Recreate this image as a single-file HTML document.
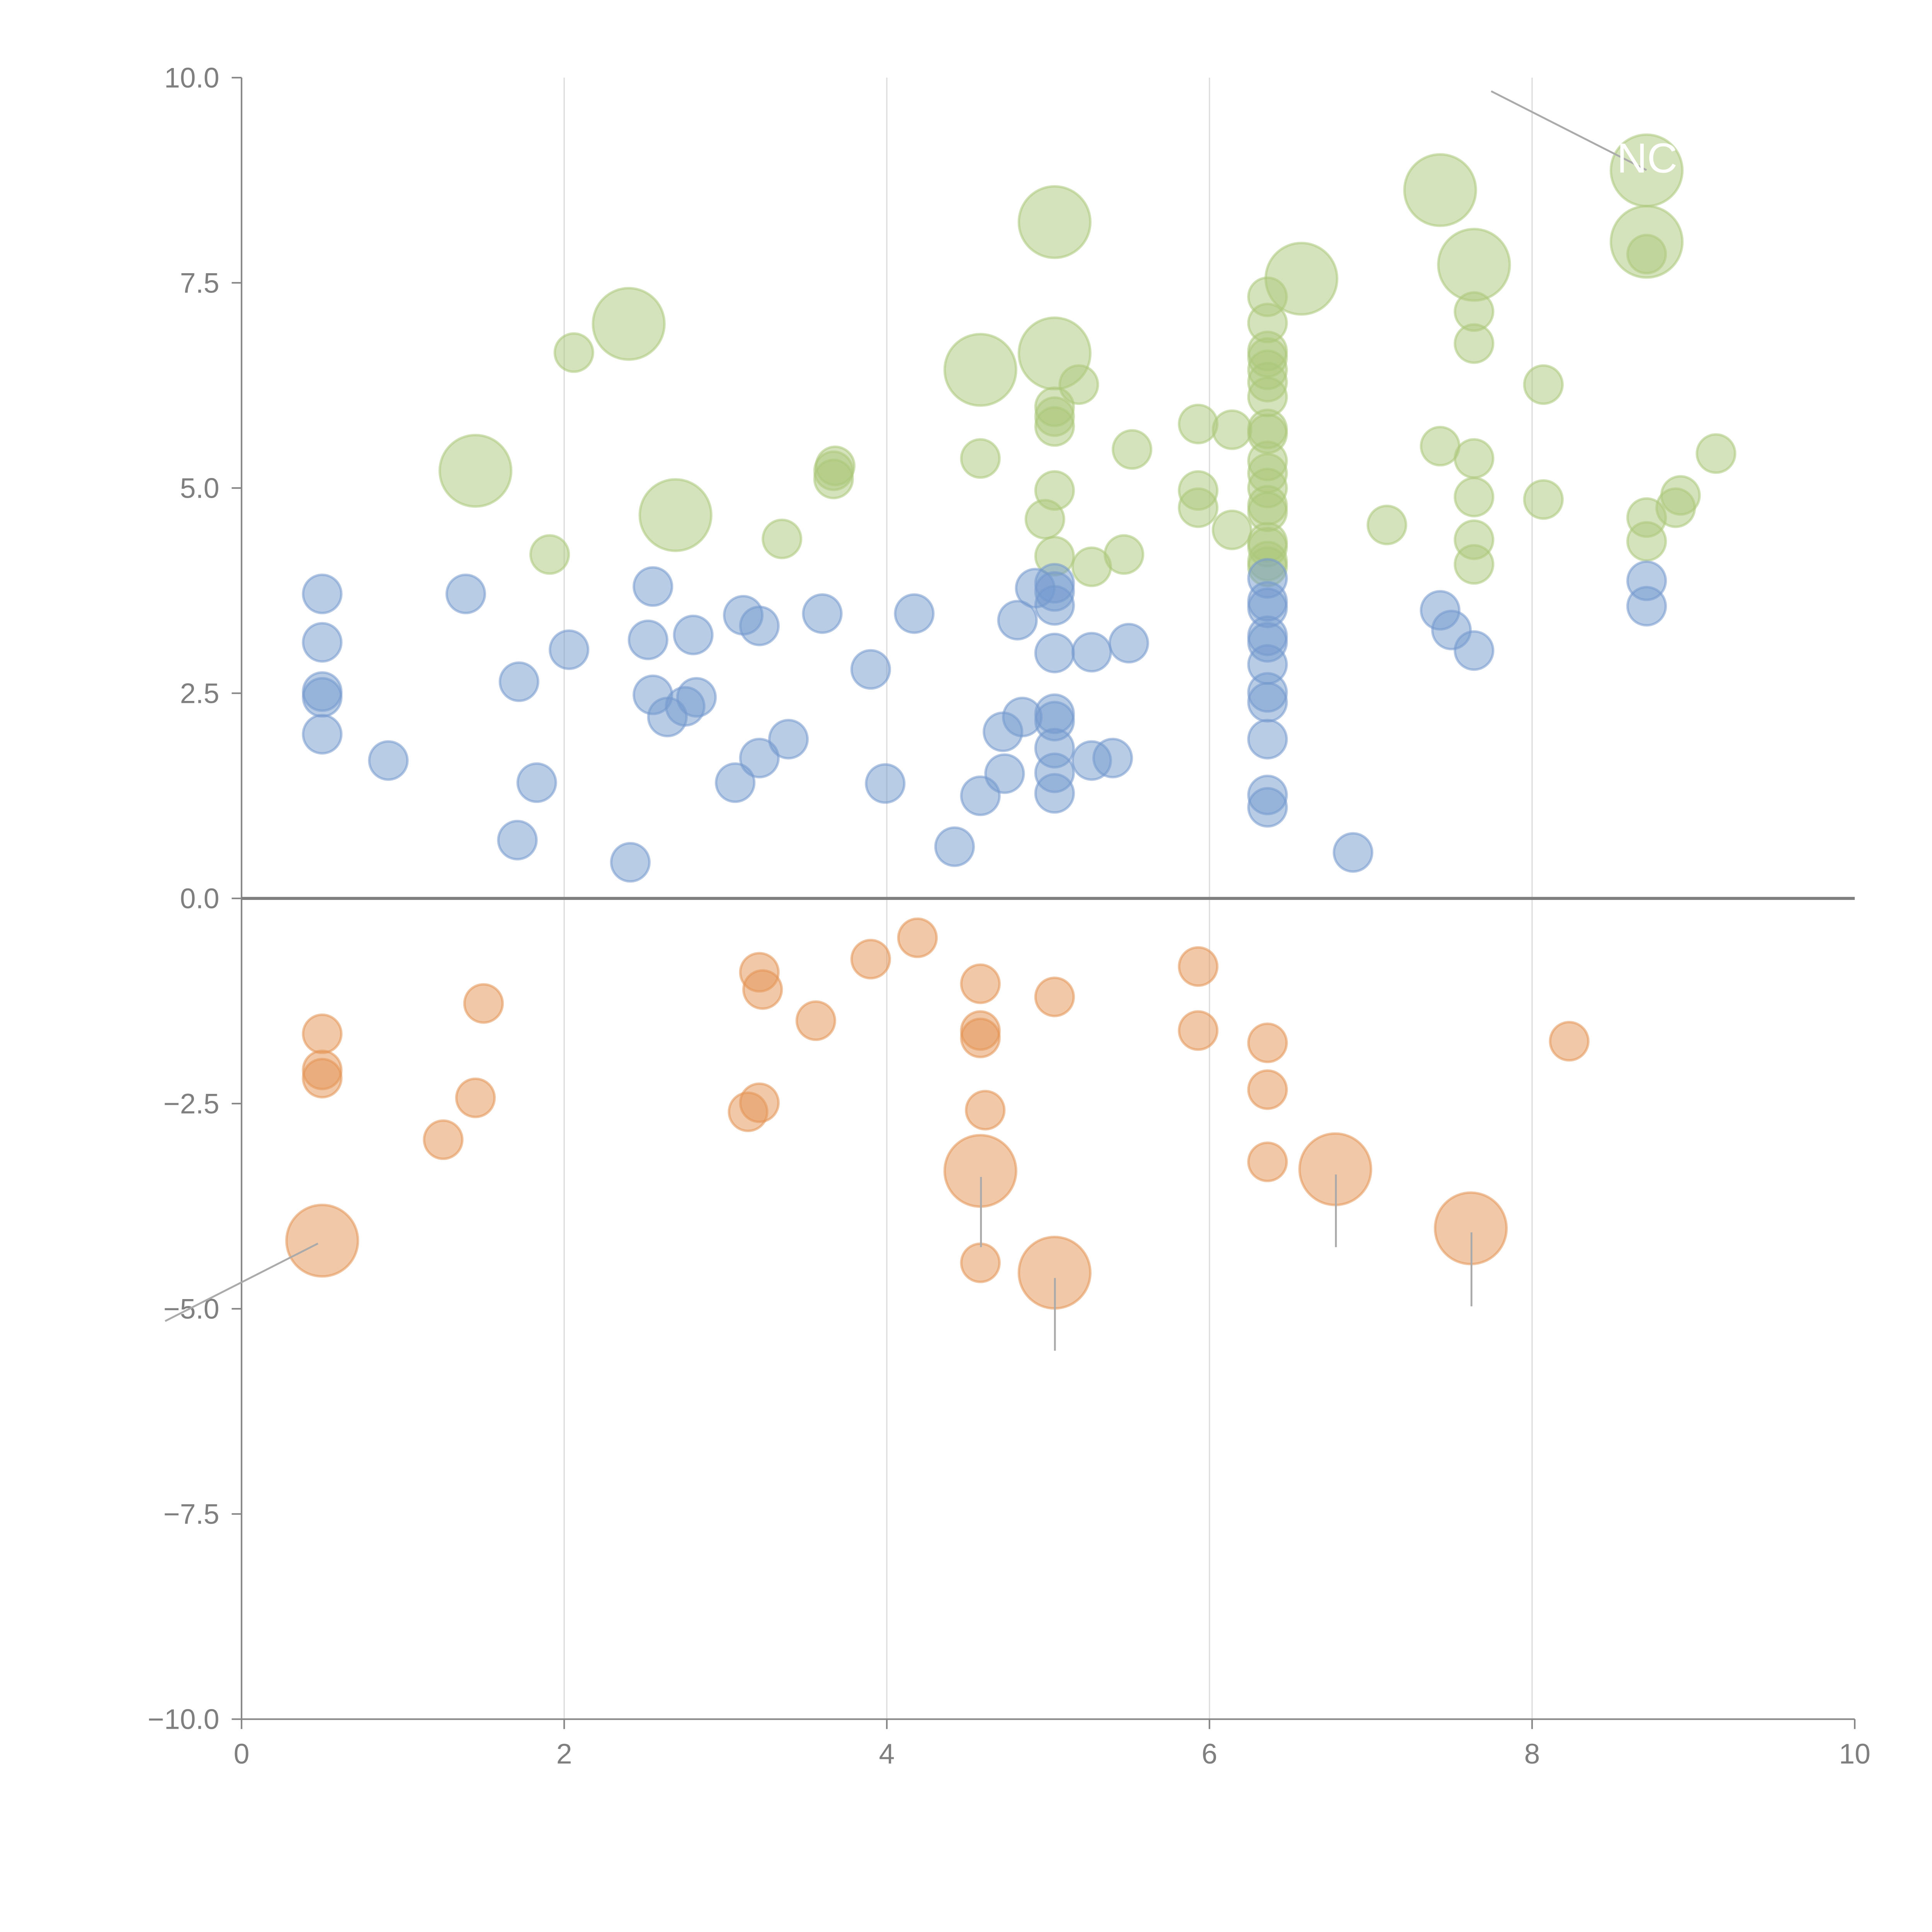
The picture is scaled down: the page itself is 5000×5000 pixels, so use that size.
<!DOCTYPE html>
<html><head><meta charset="utf-8"><style>
html,body{margin:0;padding:0;background:#fff;}
svg{display:block;}
text{font-family:"Liberation Sans",Arial,sans-serif;}
</style></head><body>
<svg id="chart" width="5000" height="5000" viewBox="0 0 1567.7 1567.7" xmlns="http://www.w3.org/2000/svg">
<g id="grid"></g>
<g id="axes"></g>
<g id="marks"></g>
<g id="ann"></g>
</svg>
<script>
// ---- data ----
const blueX=[0.50,0.50,0.50,0.50,0.50,0.91,1.39,1.72,1.71,1.83,2.03,2.41,2.52,2.55,2.55,2.64,2.75,2.80,2.82,3.11,3.21,3.21,3.39,3.06,3.60,3.90,3.99,4.17,4.42,4.58,4.72,4.73,4.81,4.84,4.92,5.04,5.04,5.04,5.04,5.04,5.04,5.04,5.04,5.04,5.27,5.27,5.40,5.50,6.36,6.36,6.36,6.36,6.36,6.36,6.36,6.36,6.36,6.36,6.36,6.89,7.43,7.50,7.64,8.71,8.71];
const blueY=[3.71,3.12,2.52,2.45,2.00,1.68,3.71,2.64,0.71,1.41,3.03,0.44,3.15,3.80,2.48,2.21,2.34,3.21,2.45,3.45,3.32,1.71,1.94,1.41,3.47,2.79,1.40,3.47,0.63,1.25,2.03,1.52,3.39,2.21,3.78,3.84,3.74,3.57,2.99,2.25,2.16,1.83,1.53,1.28,3.00,1.68,1.71,3.11,3.90,3.62,3.54,3.20,3.12,2.85,2.51,2.39,1.94,1.26,1.11,0.56,3.51,3.27,3.02,3.87,3.56];
const orangeX=[0.50,0.50,0.50,1.50,1.45,1.25,3.21,3.23,3.56,3.14,3.21,3.90,4.19,4.58,4.58,4.58,4.61,5.04,5.93,5.93,6.36,6.36,6.36,8.23,4.58,0.50,4.58,5.04,6.78,7.62];
const orangeY=[-1.65,-2.09,-2.19,-1.28,-2.43,-2.94,-0.90,-1.11,-1.49,-2.60,-2.49,-0.74,-0.48,-1.04,-1.61,-1.70,-2.58,-1.20,-0.83,-1.61,-1.76,-2.33,-3.21,-1.74,-4.44,-4.17,-3.32,-4.56,-3.30,-4.02];
const orangeS=[10,10,10,10,10,10,10,10,10,10,10,10,10,10,10,10,10,10,10,10,10,10,10,10,10,35,35,35,35,35];
const greenX=[2.06,1.91,3.35,3.67,3.68,3.67,4.58,5.04,4.98,5.04,5.04,5.04,5.04,5.19,5.27,5.47,5.52,5.93,5.93,5.93,6.14,6.14,6.36,6.36,6.36,6.36,6.36,6.36,6.36,6.36,6.36,6.36,6.36,6.36,6.36,6.36,6.36,6.36,6.36,6.36,7.10,7.43,7.64,7.64,7.64,7.64,7.64,7.64,8.07,8.07,8.71,8.71,8.71,8.89,8.92,9.14,1.45,2.40,2.69,4.58,5.04,5.04,6.57,7.43,7.64,8.71,8.71];
const greenY=[6.65,4.19,4.38,5.21,5.27,5.11,5.36,4.97,4.62,4.17,5.99,5.87,5.75,6.26,4.04,4.19,5.47,5.78,4.97,4.76,5.71,4.49,7.33,7.01,6.67,6.59,6.44,6.29,6.11,5.72,5.66,5.33,5.18,5.00,4.79,4.71,4.34,4.28,4.11,4.04,4.55,5.51,7.15,6.76,5.36,4.89,4.37,4.07,6.26,4.86,7.85,4.64,4.35,4.76,4.91,5.42,5.21,7.00,4.67,6.44,8.24,6.64,7.55,8.63,7.72,8.87,8.00];
const greenS=greenX.map((_,i)=>i>=56?35:10);
const xTicks=[0,2,4,6,8,10];
const yTicks=[-10,-7.5,-5,-2.5,0,2.5,5,7.5,10];

// ---- scales ----
const X0=196,X1=1505,Y0=1395,Y1=63;
const sx=v=>X0+(v-0)/(10-0)*(X1-X0);
const sy=v=>Y0-(v+10)/20*(Y0-Y1);
const rr=s=>15.5*Math.sqrt(s/10);
const NS='http://www.w3.org/2000/svg';
function mk(tag,attrs,parent){const e=document.createElementNS(NS,tag);for(const k in attrs)e.setAttribute(k,attrs[k]);parent.appendChild(e);return e;}
const grid=document.getElementById('grid'),axes=document.getElementById('axes'),marks=document.getElementById('marks'),ann=document.getElementById('ann');

xTicks.forEach(t=>{
  if(t>0&&t<10){const g=mk('line',{x1:sx(t),x2:sx(t),y1:Y1,y2:Y0,stroke:'#dcdcdc','stroke-width':1},grid);
  
  }
  const tk=mk('line',{x1:sx(t),x2:sx(t),y1:Y0,y2:Y0+8,stroke:'#888','stroke-width':1.3},axes);
  
  
  const tx=mk('text',{x:sx(t),y:Y0+36,'text-anchor':'middle','font-size':23,fill:'#7f7f7f'},axes);
  tx.textContent=t;
  
  
});
yTicks.forEach(t=>{
  const tk=mk('line',{x1:X0-8,x2:X0,y1:sy(t),y2:sy(t),stroke:'#888','stroke-width':1.3},axes);
  
  
  const tx=mk('text',{x:X0-18,y:sy(t)+8,'text-anchor':'end','font-size':23,fill:'#7f7f7f'},axes);
  tx.textContent=(t<0?'\u2212':'')+Math.abs(t).toFixed(1);
  
  
});
let a=mk('line',{x1:X0,x2:X0,y1:Y1,y2:Y0,stroke:'#888','stroke-width':1.3},axes);


a=mk('line',{x1:X0,x2:X1,y1:Y0,y2:Y0,stroke:'#888','stroke-width':1.3},axes);


a=mk('line',{x1:X0,x2:X1,y1:sy(0),y2:sy(0),stroke:'#808080','stroke-width':2.5},axes);



function series(xs,ys,ss,col,name){
  xs.forEach((x,i)=>{
    const c=mk('circle',{cx:sx(x),cy:sy(ys[i]),r:rr(ss?ss[i]:10),fill:col,'fill-opacity':0.5,stroke:col,'stroke-opacity':0.55,'stroke-width':2},marks);
    
    
  });
}
series(greenX,greenY,greenS,'rgb(172,200,122)','green-bubble');
series(blueX,blueY,null,'rgb(116,153,205)','blue-bubble');
series(orangeX,orangeY,orangeS,'rgb(228,148,84)','orange-bubble');

// leader lines for labels
const leaders=[[1210,74,1336,138],[134,1072,258,1009],[796,955,796,1012],[856,1037,856,1096],[1084,953,1084,1012],[1194,1000,1194,1060]];
leaders.forEach(l=>{
  const e=mk('line',{x1:l[0],y1:l[1],x2:l[2],y2:l[3],stroke:'#aaa','stroke-width':1.5},ann);
  
  
});
const lb=mk('text',{x:1312,y:140,'font-size':34,fill:'#fff'},ann);
lb.textContent='NC';


</script>
</body></html>
